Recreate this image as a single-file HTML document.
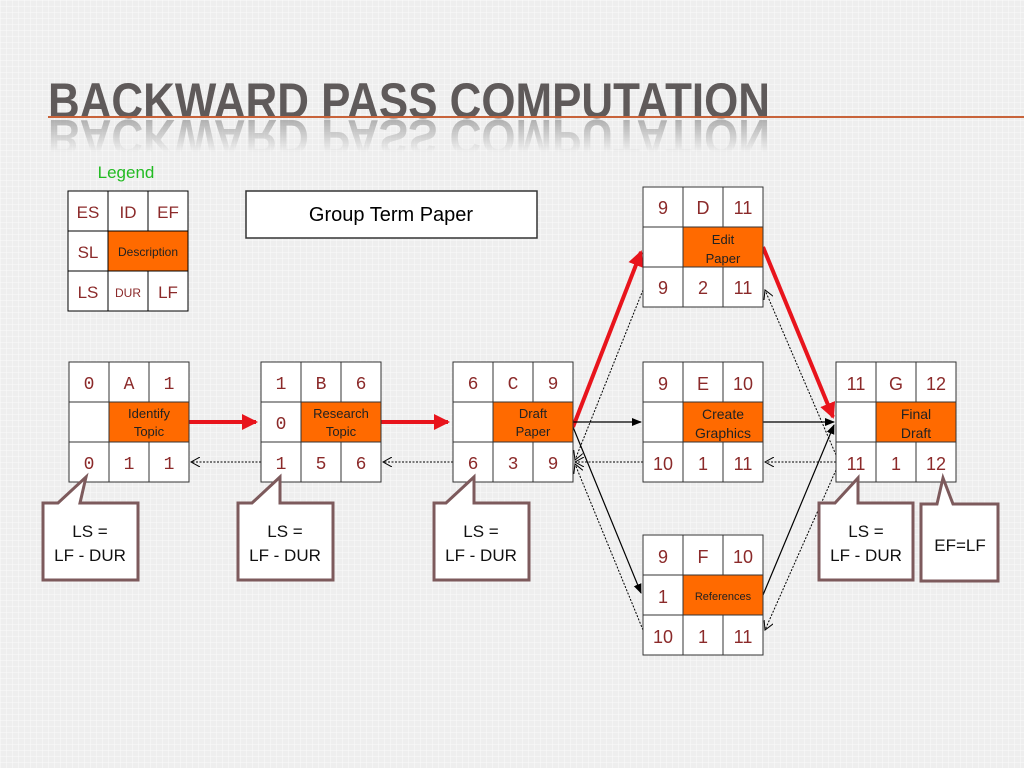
<!DOCTYPE html>
<html><head><meta charset="utf-8"><style>
html,body{margin:0;padding:0;width:1024px;height:768px;overflow:hidden;background:#f3f3f3}
svg{display:block}
</style></head><body>
<svg width="1024" height="768" viewBox="0 0 1024 768" xmlns="http://www.w3.org/2000/svg" font-family="Liberation Sans, sans-serif">
<defs>
<pattern id="g" width="6" height="6" patternUnits="userSpaceOnUse"><rect width="6" height="6" fill="#eeeeee"/><path d="M0 0H6M0 0V6" stroke="#fafafa" stroke-width="1"/></pattern>
<linearGradient id="rf" x1="0" y1="0" x2="0" y2="1"><stop offset="0" stop-color="#fff" stop-opacity="0.55"/><stop offset="1" stop-color="#fff" stop-opacity="0"/></linearGradient>
<mask id="rm" maskUnits="userSpaceOnUse" x="0" y="116" width="1024" height="40"><rect x="0" y="118" width="1024" height="34" fill="url(#rf)"/></mask>
<marker id="ar" markerWidth="4" markerHeight="4" refX="3.5" refY="2" orient="auto" markerUnits="strokeWidth"><path d="M0,0 L4,2 L0,4 z" fill="#e8141c"/></marker>
<marker id="ab" markerWidth="10" markerHeight="10" refX="9" refY="5" orient="auto" markerUnits="userSpaceOnUse"><path d="M0,1 L10,5 L0,9 z" fill="#000"/></marker>
<marker id="ao" markerWidth="10" markerHeight="10" refX="9" refY="5" orient="auto" markerUnits="userSpaceOnUse"><path d="M0,0 L9,5 L0,10" fill="none" stroke="#000" stroke-width="1"/></marker>
</defs>
<rect width="1024" height="768" fill="url(#g)"/>
<!-- title -->
<g mask="url(#rm)">
<g transform="translate(0,238) scale(1,-1)">
<text x="48" y="118" font-size="50" font-weight="bold" fill="#777" textLength="722" lengthAdjust="spacingAndGlyphs">BACKWARD PASS COMPUTATION</text>
</g>
</g>
<text x="48" y="118" font-size="50" font-weight="bold" fill="#5f5a5a" textLength="722" lengthAdjust="spacingAndGlyphs">BACKWARD PASS COMPUTATION</text>
<line x1="48" y1="117" x2="1024" y2="117" stroke="#c8633a" stroke-width="2"/>
<!-- legend -->
<text x="126" y="178" font-size="17" fill="#22bb22" text-anchor="middle">Legend</text>
<g stroke="#000" stroke-width="1">
<rect x="68" y="191" width="120" height="120" fill="#fff"/>
<rect x="108" y="231" width="80" height="40" fill="#ff6a00"/>
<line x1="68" y1="231" x2="188" y2="231"/><line x1="68" y1="271" x2="188" y2="271"/>
<line x1="108" y1="191" x2="108" y2="311"/><line x1="148" y1="191" x2="148" y2="231"/><line x1="148" y1="271" x2="148" y2="311"/>
</g>
<g fill="#8b2a2a" font-size="17" text-anchor="middle">
<text x="88" y="218">ES</text><text x="128" y="218">ID</text><text x="168" y="218">EF</text>
<text x="88" y="258">SL</text><text x="88" y="298">LS</text><text x="128" y="297" font-size="12">DUR</text><text x="168" y="298">LF</text>
</g>
<text x="148" y="256" font-size="12" text-anchor="middle" fill="#222">Description</text>
<!-- group term paper -->
<rect x="246" y="191" width="291" height="47" fill="#fff" stroke="#333" stroke-width="1.5"/>
<text x="391" y="221" font-size="20" text-anchor="middle" fill="#000">Group Term Paper</text>

<!-- connectors -->
<g stroke="#e8141c" stroke-width="4" fill="none">
<line x1="189" y1="422" x2="256" y2="422" marker-end="url(#ar)"/>
<line x1="381" y1="422" x2="448" y2="422" marker-end="url(#ar)"/>
<line x1="573" y1="427" x2="641" y2="252" marker-end="url(#ar)"/>
<line x1="763" y1="247" x2="833" y2="417" marker-end="url(#ar)"/>
</g>
<g stroke="#000" stroke-width="1.2" fill="none">
<line x1="573" y1="422" x2="641" y2="422" marker-end="url(#ab)"/>
<line x1="573" y1="427" x2="641" y2="593" marker-end="url(#ab)"/>
<line x1="763" y1="422" x2="834" y2="422" marker-end="url(#ab)"/>
<line x1="763" y1="595" x2="834" y2="425" marker-end="url(#ab)"/>
</g>
<g stroke="#000" stroke-width="1" stroke-dasharray="2,1.5" fill="none">
<line x1="261" y1="462" x2="191" y2="462" marker-end="url(#ao)"/>
<line x1="453" y1="462" x2="383" y2="462" marker-end="url(#ao)"/>
<line x1="643" y1="462" x2="575" y2="462" marker-end="url(#ao)"/>
<line x1="643" y1="290" x2="575" y2="460" marker-end="url(#ao)"/>
<line x1="643" y1="630" x2="575" y2="464" marker-end="url(#ao)"/>
<line x1="836" y1="462" x2="765" y2="462" marker-end="url(#ao)"/>
<line x1="836" y1="455" x2="765" y2="290" marker-end="url(#ao)"/>
<line x1="836" y1="470" x2="765" y2="630" marker-end="url(#ao)"/>
</g>

<!-- nodes -->
<g font-size="18" text-anchor="middle">
<g transform="translate(69,362)">
<rect width="120" height="120" fill="#fff" stroke="#333"/><rect x="40" y="40" width="80" height="40" fill="#ff6a00" stroke="#333"/>
<path d="M0 40H120M0 80H120M40 0V120M80 0V40M80 80V120" stroke="#333" fill="none"/>
<g fill="#8b2a2a" font-family="Liberation Mono, monospace"><text x="20" y="27">0</text><text x="60" y="27">A</text><text x="100" y="27">1</text><text x="20" y="107">0</text><text x="60" y="107">1</text><text x="100" y="107">1</text></g>
<g font-size="13" fill="#222"><text x="80" y="56">Identify</text><text x="80" y="74">Topic</text></g>
</g>
<g transform="translate(261,362)">
<rect width="120" height="120" fill="#fff" stroke="#333"/><rect x="40" y="40" width="80" height="40" fill="#ff6a00" stroke="#333"/>
<path d="M0 40H120M0 80H120M40 0V120M80 0V40M80 80V120" stroke="#333" fill="none"/>
<g fill="#8b2a2a" font-family="Liberation Mono, monospace"><text x="20" y="27">1</text><text x="60" y="27">B</text><text x="100" y="27">6</text><text x="20" y="67">0</text><text x="20" y="107">1</text><text x="60" y="107">5</text><text x="100" y="107">6</text></g>
<g font-size="13" fill="#222"><text x="80" y="56">Research</text><text x="80" y="74">Topic</text></g>
</g>
<g transform="translate(453,362)">
<rect width="120" height="120" fill="#fff" stroke="#333"/><rect x="40" y="40" width="80" height="40" fill="#ff6a00" stroke="#333"/>
<path d="M0 40H120M0 80H120M40 0V120M80 0V40M80 80V120" stroke="#333" fill="none"/>
<g fill="#8b2a2a" font-family="Liberation Mono, monospace"><text x="20" y="27">6</text><text x="60" y="27">C</text><text x="100" y="27">9</text><text x="20" y="107">6</text><text x="60" y="107">3</text><text x="100" y="107">9</text></g>
<g font-size="13" fill="#222"><text x="80" y="56">Draft</text><text x="80" y="74">Paper</text></g>
</g>
<g transform="translate(643,187)">
<rect width="120" height="120" fill="#fff" stroke="#333"/><rect x="40" y="40" width="80" height="40" fill="#ff6a00" stroke="#333"/>
<path d="M0 40H120M0 80H120M40 0V120M80 0V40M80 80V120" stroke="#333" fill="none"/>
<g fill="#8b2a2a"><text x="20" y="27">9</text><text x="60" y="27">D</text><text x="100" y="27">11</text><text x="20" y="107">9</text><text x="60" y="107">2</text><text x="100" y="107">11</text></g>
<g font-size="13" fill="#222"><text x="80" y="57">Edit</text><text x="80" y="76">Paper</text></g>
</g>
<g transform="translate(643,362)">
<rect width="120" height="120" fill="#fff" stroke="#333"/><rect x="40" y="40" width="80" height="40" fill="#ff6a00" stroke="#333"/>
<path d="M0 40H120M0 80H120M40 0V120M80 0V40M80 80V120" stroke="#333" fill="none"/>
<g fill="#8b2a2a"><text x="20" y="28">9</text><text x="60" y="28">E</text><text x="100" y="28">10</text><text x="20" y="108">10</text><text x="60" y="108">1</text><text x="100" y="108">11</text></g>
<g font-size="14" fill="#222"><text x="80" y="57">Create</text><text x="80" y="76">Graphics</text></g>
</g>
<g transform="translate(643,535)">
<rect width="120" height="120" fill="#fff" stroke="#333"/><rect x="40" y="40" width="80" height="40" fill="#ff6a00" stroke="#333"/>
<path d="M0 40H120M0 80H120M40 0V120M80 0V40M80 80V120" stroke="#333" fill="none"/>
<g fill="#8b2a2a"><text x="20" y="28">9</text><text x="60" y="28">F</text><text x="100" y="28">10</text><text x="20" y="68">1</text><text x="20" y="108">10</text><text x="60" y="108">1</text><text x="100" y="108">11</text></g>
<text x="80" y="65" font-size="11" fill="#222">References</text>
</g>
<g transform="translate(836,362)">
<rect width="120" height="120" fill="#fff" stroke="#333"/><rect x="40" y="40" width="80" height="40" fill="#ff6a00" stroke="#333"/>
<path d="M0 40H120M0 80H120M40 0V120M80 0V40M80 80V120" stroke="#333" fill="none"/>
<g fill="#8b2a2a"><text x="20" y="28">11</text><text x="60" y="28">G</text><text x="100" y="28">12</text><text x="20" y="108">11</text><text x="60" y="108">1</text><text x="100" y="108">12</text></g>
<g font-size="14" fill="#222"><text x="80" y="57">Final</text><text x="80" y="76">Draft</text></g>
</g>
</g>

<!-- callouts -->
<g stroke="#7d5a5c" stroke-width="3" fill="#fff" stroke-linejoin="miter">
<path d="M43 503 H58 L86 477 L80 503 H138 V580 H43 Z"/>
<path d="M238 503 H252 L280 477 L280 503 H333 V580 H238 Z"/>
<path d="M434 503 H446 L474 477 L474 503 H529 V580 H434 Z"/>
<path d="M819 503 H835 L858 478 L858 503 H913 V580 H819 Z"/>
<path d="M921 504 H937 L943 478 L953 504 H998 V581 H921 Z"/>
</g>
<g font-size="17" fill="#111" text-anchor="middle">
<text x="90" y="537">LS =</text><text x="90" y="561">LF - DUR</text>
<text x="285" y="537">LS =</text><text x="285" y="561">LF - DUR</text>
<text x="481" y="537">LS =</text><text x="481" y="561">LF - DUR</text>
<text x="866" y="537">LS =</text><text x="866" y="561">LF - DUR</text>
<text x="960" y="551">EF=LF</text>
</g>
</svg>
</body></html>
